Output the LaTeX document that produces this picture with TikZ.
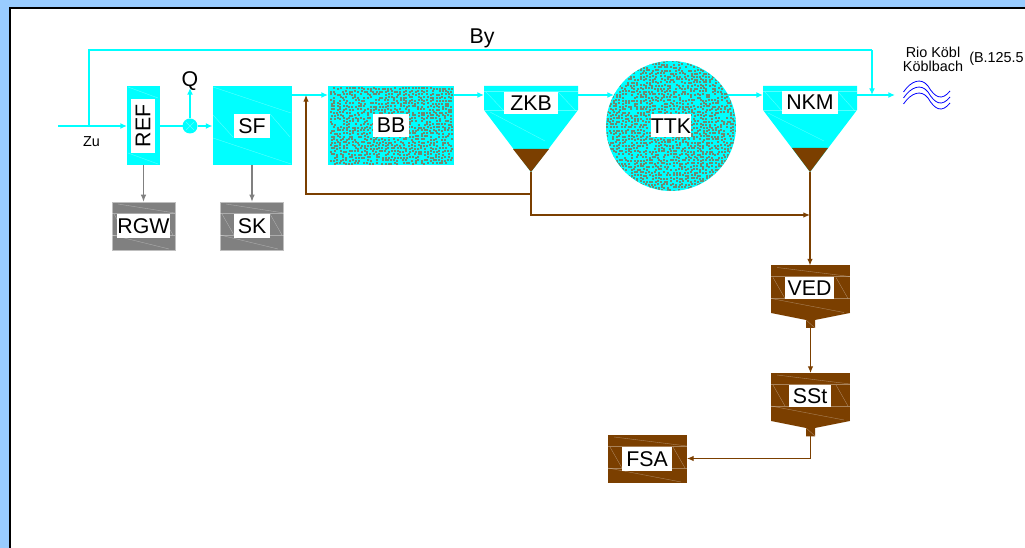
\documentclass[tikz,border=0pt]{standalone}
\usepackage{fontspec}
\setmainfont{Liberation Sans}
\usetikzlibrary{arrows.meta}
\definecolor{bgblue}{HTML}{99CCFF}
\definecolor{wcyan}{HTML}{00FFFF}
\definecolor{sbrown}{HTML}{7B3F00}
\definecolor{sgray}{HTML}{808080}
\definecolor{dotc}{HTML}{6E8A72}
\newcommand{\bigtxt}{\fontsize{16}{17}\selectfont}
\newcommand{\smalltxt}{\fontsize{10.8}{10.5}\selectfont}
% \hatchlines{x1}{y1}{x2}{y2}: faint lines inside a box
\newcommand{\hatchlines}[4]{%
  \draw[hatch] (#1+6,#2+2) -- (#3,#2+11);
  \draw[hatch] (#1,#2+11) -- (#3,#2+11);
  \draw[hatch] (#1+2,#2+12) -- (#1+14,#2+33);
  \draw[hatch] (#3-14,#2+12) -- (#3-2,#2+33);
  \draw[hatch] (#1,#2+33) -- (#3,#2+33);
  \draw[hatch] (#1,#2+33) -- (#3-6,#4-1);
}
\newcommand{\stipple}[4]{%
  \foreach \ix in {#1,...,#3}{%
    \foreach \iy in {#2,...,#4}{%
      \pgfmathrandominteger{\rx}{0}{1}%
      \pgfmathrandominteger{\ry}{0}{1}%
      \pgfmathrandominteger{\rr}{0}{99}%
      \ifnum\rr<85\relax
        \fill[dotc] (3*\ix+\rx,3*\iy+\ry) rectangle ++(1.7,1.7);
      \fi
    }%
  }%
}
\tikzset{
  hatch/.style={draw=white,opacity=.35,line width=.3pt},
  wline/.style={draw=wcyan,line width=1.1pt},
  bline/.style={draw=sbrown,line width=.85pt},
  gline/.style={draw=sgray,line width=1pt},
  warrow/.style={wline,-{Latex[length=5pt,width=4.4pt]}},
  barrow/.style={bline,-{Latex[length=5pt,width=4.2pt]}},
  garrow/.style={gline,-{Latex[length=5.5pt,width=4.2pt]}},
  unit/.style={rectangle,inner sep=0pt,outer sep=0pt},
  wunit/.style={unit,fill=wcyan},
  gunit/.style={unit,fill=sgray,draw=black!25,line width=.5pt},
  bunit/.style={unit,fill=sbrown},
  tag/.style={rectangle,fill=white,inner sep=0pt,font=\bigtxt,text=black},
  plain/.style={inner sep=0pt,font=\bigtxt,text=black},
  note/.style={inner sep=0pt,font=\smalltxt,text=black},
}
\begin{document}
\begin{tikzpicture}[x=0.75pt,y=-0.75pt]
\clip (0,0) rectangle (1025,548);
\pgfmathsetseed{4711}
\fill[bgblue] (0,0) rectangle (1025,548);
\fill[white,draw=black,line width=1.8pt] (10,8) rectangle (1040,560);

\coordinate (s) at (0,95);
\coordinate (m) at (0,126);
\coordinate (Zin) at (58,126);
\coordinate (Bytap) at (89,126);
\coordinate (Bytl) at (89,50);
\coordinate (Bytr) at (872,50);
\coordinate (Byend) at (872,95);
\coordinate (Out) at (895,95);
\coordinate (Qend) at (190,88);
\coordinate (TTKin) at (614,95);
\coordinate (TTKout) at (728,95);

% REF
\node[wunit,minimum width=33*0.75pt,minimum height=79*0.75pt] (REF) at (143.5,125.5) {};
\draw[hatch] (128,87) -- (158,98);
\draw[hatch] (128,153) -- (158,164);
% SF
\node[wunit,minimum width=79*0.75pt,minimum height=79*0.75pt] (SF) at (252,125.5) {};
\draw[hatch] (213,87) -- (291,113);
\draw[hatch] (213,115) -- (233,137);
\draw[hatch] (270,114) -- (290,137);
\draw[hatch] (213,138) -- (291,164);
% RGW, SK
\node[gunit,minimum width=63*0.75pt,minimum height=48*0.75pt] (RGW) at (143.5,226) {};
\hatchlines{112}{202}{175}{250}
\node[gunit,minimum width=63*0.75pt,minimum height=48*0.75pt] (SK) at (252,226) {};
\hatchlines{220}{202}{284}{250}
% BB
\node[wunit,minimum width=126*0.75pt,minimum height=79*0.75pt] (BB) at (391,125.5) {};
\begin{scope}
  \clip (328,86) rectangle (454,165);
  \stipple{110}{29}{150}{54}
\end{scope}
% TTK
\node[circle,fill=wcyan,inner sep=0pt,outer sep=0pt,minimum size=130*0.75pt] (TTK) at (671,126) {};
\begin{scope}
  \clip (671,126) circle[radius=48.6pt];
  \stipple{202}{20}{245}{64}
\end{scope}
% ZKB hopper
\coordinate (ZKBtip) at (531,172);
\coordinate (ZKBl) at (484,95);
\coordinate (ZKBr) at (578,95);
\fill[wcyan] (484,86) -- (578,86) -- (578,110) -- (ZKBtip) -- (484,110) -- cycle;
\fill[sbrown] (513,149) -- (549,149) -- (ZKBtip) -- cycle;
\draw[hatch] (484,91) -- (578,91);
\draw[hatch] (484,110) -- (578,110);
\draw[hatch] (486,92) -- (504,111);
\draw[hatch] (558,92) -- (576,111);
\draw[hatch] (490,112) -- (545,141);
% NKM hopper
\coordinate (NKMtip) at (810,172);
\coordinate (NKMl) at (763,95);
\coordinate (NKMr) at (857,95);
\fill[wcyan] (763,86) -- (857,86) -- (857,110) -- (NKMtip) -- (763,110) -- cycle;
\fill[sbrown] (792,148) -- (828,148) -- (NKMtip) -- cycle;
\draw[hatch] (763,91) -- (857,91);
\draw[hatch] (763,110) -- (857,110);
\draw[hatch] (765,92) -- (782,111);
\draw[hatch] (838,92) -- (855,111);
\draw[hatch] (768,113) -- (824,141);
% VED
\node[bunit,minimum width=79*0.75pt,minimum height=48*0.75pt] (VED) at (810.5,289.5) {};
\fill[sbrown] (771,313) -- (850,313) -- (815,320) -- (815,328) -- (806,328) -- (806,320) -- cycle;
\coordinate (VEDout) at (810.5,328);
\hatchlines{771}{265.5}{850}{313.5}
\draw[hatch] (806,320) -- (815,328);
% SSt
\node[bunit,minimum width=79*0.75pt,minimum height=48*0.75pt] (SSt) at (810.5,397) {};
\fill[sbrown] (771,421) -- (850,421) -- (815,428) -- (815,436.5) -- (806,436.5) -- (806,428) -- cycle;
\coordinate (SStout) at (810.5,436.5);
\hatchlines{771}{373}{850}{421}
\draw[hatch] (806,428) -- (815,436);
% FSA
\node[bunit,minimum width=79*0.75pt,minimum height=48*0.75pt] (FSA) at (647.5,459) {};
\hatchlines{608}{435}{687}{483}

% connectors: water
\draw[warrow] (Zin) -- (REF.west |- m);
\draw[wline] (Bytap) -- (Bytl) -- (Bytr);
\draw[warrow] (Bytr) -- (Byend);
\node[circle,fill=wcyan,inner sep=0pt,outer sep=0pt,minimum size=15*0.75pt] (J) at (190,126) {};
\draw[hatch] (186,122) -- (194,130) (186,130) -- (194,122);
\draw[wline] (REF.east |- m) -- (J.west);
\draw[warrow] (J.east) -- (SF.west |- m);
\draw[warrow] (J.north) -- (Qend);
\draw[warrow] (SF.east |- s) -- (BB.west |- s);
\draw[warrow] (BB.east |- s) -- (ZKBl);
\draw[warrow] (ZKBr) -- (TTKin);
\draw[warrow] (TTKout) -- (NKMl);
\draw[warrow] (NKMr) -- (Out);

% connectors: grey
\draw[garrow] (REF.south) -- (RGW.north);
\draw[garrow] (SF.south) -- (SK.north);

% connectors: sludge
\coordinate (Ra) at (531,194);
\coordinate (Rb) at (306,194);
\coordinate (Rc) at (306,95);
\coordinate (Sa) at (531,215);
\coordinate (Sb) at (810,215);
\coordinate (Fa) at (810.5,458.5);
\draw[barrow] (ZKBtip) -- (Ra) -- (Rb) -- (Rc);
\draw[barrow] (Ra) -- (Sa) -- (Sb);
\draw[barrow] (NKMtip) -- (NKMtip |- VED.north);
\draw[barrow] (VEDout) -- (SSt.north);
\draw[barrow] (SStout) -- (Fa) -- (FSA.east |- Fa);

% labels
\node[tag,rotate=90,minimum width=54*0.75pt,minimum height=24*0.75pt] (lREF) at (143,126) {REF};
\node[tag,minimum width=36*0.75pt,minimum height=24*0.75pt] (lSF) at (252,126) {SF};
\node[tag,minimum width=53*0.75pt,minimum height=24*0.75pt] (lRGW) at (143.5,226) {RGW};
\node[tag,minimum width=36*0.75pt,minimum height=24*0.75pt] (lSK) at (252,226) {SK};
\node[tag,minimum width=36*0.75pt,minimum height=23*0.75pt] (lBB) at (391,125.5) {BB};
\node[tag,minimum width=54*0.75pt,minimum height=22*0.75pt] (lZKB) at (531,103) {ZKB};
\node[tag,minimum width=36*0.75pt,minimum height=23*0.75pt] (lTTK) at (671,126) {TTK};
\node[tag,minimum width=56*0.75pt,minimum height=23*0.75pt] (lNKM) at (810,102.5) {NKM};
\node[tag,minimum width=49*0.75pt,minimum height=22*0.75pt] (lVED) at (809.5,288) {VED};
\node[tag,minimum width=42.5*0.75pt,minimum height=22*0.75pt] (lSSt) at (810,396.5) {SSt};
\node[tag,minimum width=50*0.75pt,minimum height=24*0.75pt] (lFSA) at (647,459) {FSA};
\node[plain] (lBy) at (482,38.5) {By};
\node[plain] (lQ) at (190,81) {Q};
\node[note] (lZu) at (91.5,142) {Zu};
\node[note,align=center] (lRio) at (933,59.5) {Rio Köbl\\Köblbach};
\node[note,anchor=west] (lB) at (969,58.5) {(B.125.5};

% waves
\foreach \dy in {0,6,12}{
  \draw[blue,line width=.6pt,yshift=-\dy*0.75pt]
    (903.5,92) .. controls (911,81) and (921,77) .. (928,86)
    .. controls (935,98) and (942,101) .. (950,91);
}
\end{tikzpicture}
\end{document}
